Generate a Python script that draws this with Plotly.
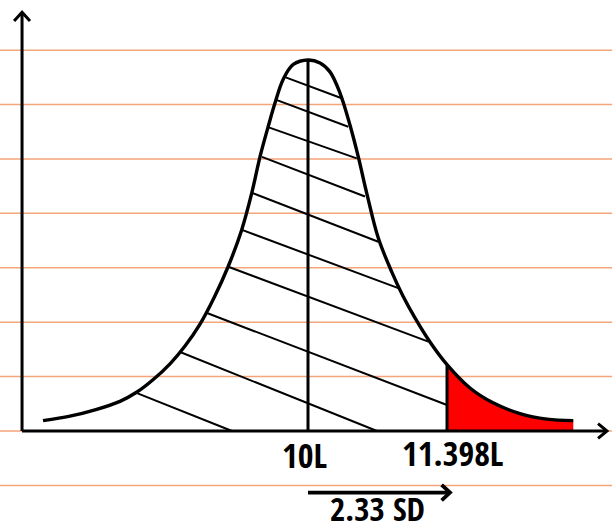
import plotly.graph_objects as go

# Distribution parameters (litres)
mean_l = 10.0
sd_l = 0.6
z_value = 2.33
cutoff_l = 11.398

# Hand-drawn bell curve: x in litres, height relative to the peak
curve_x = [7.335, 7.606, 7.858, 8.109, 8.280, 8.441, 8.612, 8.763, 8.914, 9.055,
           9.195, 9.333, 9.434, 9.517, 9.601, 9.668, 9.752, 9.852, 10.0,
           10.121, 10.221, 10.322, 10.422, 10.506, 10.590, 10.707, 10.842, 10.955,
           11.076, 11.227, 11.398, 11.629, 11.861, 12.132, 12.404, 12.668]
curve_y = [0.028, 0.040, 0.057, 0.080, 0.105, 0.138, 0.181, 0.229, 0.288, 0.359,
           0.442, 0.542, 0.641, 0.739, 0.822, 0.884, 0.949, 0.988, 1.0,
           0.992, 0.968, 0.911, 0.825, 0.739, 0.642, 0.520, 0.429, 0.364,
           0.305, 0.240, 0.179, 0.116, 0.076, 0.047, 0.032, 0.028]

# Diagonal hatching across the body of the curve (start / end points)
hatch_x0 = [9.769, 9.688, 9.598, 9.537, 9.437, 9.336, 9.205, 8.984, 8.713, 8.280]
hatch_y0 = [0.954, 0.892, 0.819, 0.739, 0.642, 0.542, 0.442, 0.318, 0.213, 0.102]
hatch_x1 = [10.339, 10.405, 10.490, 10.573, 10.707, 10.908, 11.210, 11.398, 10.694, 9.236]
hatch_y1 = [0.897, 0.820, 0.735, 0.632, 0.510, 0.385, 0.241, 0.070, 0.0, 0.0]

# Ruled notebook lines behind the drawing
rule_y = [-0.147, 0.0, 0.147, 0.293, 0.440, 0.587, 0.733, 0.880, 1.026]

peak_y = 1.0
cutoff_y = 0.179

x_range = [6.9023, 13.0574]
y_range = [-0.26954, 1.16173]
ink = "#000000"
font_family = "Open Sans Condensed, Roboto Condensed, DejaVu Sans Condensed, sans-serif"

fig = go.Figure()

# Red upper-tail area beyond the cutoff
tail_x = [x for x in curve_x if x >= cutoff_l]
tail_y = [y for x, y in zip(curve_x, curve_y) if x >= cutoff_l]
fig.add_trace(go.Scatter(x=tail_x, y=tail_y, mode="lines", fill="tozeroy",
                         fillcolor="#FF0000", line=dict(width=0, shape="spline"),
                         hoverinfo="skip"))

# Hatching
hx, hy = [], []
for a, b, c, d in zip(hatch_x0, hatch_y0, hatch_x1, hatch_y1):
    hx += [a, c, None]
    hy += [b, d, None]
fig.add_trace(go.Scatter(x=hx, y=hy, mode="lines", line=dict(color=ink, width=2),
                         hoverinfo="skip"))

# Mean and cutoff verticals
fig.add_trace(go.Scatter(x=[mean_l, mean_l, None, cutoff_l, cutoff_l],
                         y=[0, peak_y, None, 0, cutoff_y], mode="lines",
                         line=dict(color=ink, width=3), hoverinfo="skip"))

# Bell curve
fig.add_trace(go.Scatter(x=curve_x, y=curve_y, mode="lines",
                         line=dict(color=ink, width=3.4, shape="spline", smoothing=1.0),
                         hoverinfo="skip"))

# Hand-drawn axes with open arrowheads
x_axis_left = 7.124
x_axis_right = 13.007
y_axis_top = 1.129
ax_x = [x_axis_left, x_axis_left, None, x_axis_left, x_axis_right, None,
        x_axis_left - 0.08, x_axis_left, x_axis_left + 0.08, None,
        x_axis_right - 0.09, x_axis_right, x_axis_right - 0.09]
ax_y = [0, y_axis_top, None, 0, 0, None,
        y_axis_top - 0.024, y_axis_top, y_axis_top - 0.024, None,
        0.02, 0, -0.02]
fig.add_trace(go.Scatter(x=ax_x, y=ax_y, mode="lines", line=dict(color=ink, width=3),
                         hoverinfo="skip"))

# 2.33 SD arrow from the mean to the cutoff
arrow_y = -0.166
arrow_end = mean_l + z_value * sd_l + 0.03
fig.add_trace(go.Scatter(x=[mean_l, arrow_end, None, arrow_end - 0.084, arrow_end, arrow_end - 0.084],
                         y=[arrow_y, arrow_y, None, arrow_y + 0.021, arrow_y, arrow_y - 0.021],
                         mode="lines", line=dict(color=ink, width=3.8), hoverinfo="skip"))

shapes = [dict(type="line", xref="paper", x0=0, x1=1, yref="y", y0=r, y1=r,
               line=dict(color="#F4A57A", width=1.5), layer="below") for r in rule_y]

label_font = dict(family=font_family, size=34, color=ink)
annotations = [
    dict(x=mean_l, y=-0.066, text="<b>10L</b>", showarrow=False, xshift=-4,
         font=label_font, xanchor="center", yanchor="middle"),
    dict(x=cutoff_l, y=-0.058, text="<b>11.398L</b>", showarrow=False, xshift=6,
         font=label_font, xanchor="center", yanchor="middle"),
    dict(x=mean_l + z_value * sd_l / 2, y=-0.210, text="<b>2.33 SD</b>", showarrow=False,
         font=dict(family=font_family, size=33, color=ink), xanchor="center", yanchor="middle"),
]

fig.update_layout(
    width=612, height=531,
    margin=dict(l=0, r=0, t=0, b=0),
    paper_bgcolor="white", plot_bgcolor="white",
    showlegend=False,
    xaxis=dict(range=x_range, visible=False, fixedrange=True),
    yaxis=dict(range=y_range, visible=False, fixedrange=True),
    shapes=shapes,
    annotations=annotations,
)

fig.write_html("out.html")
